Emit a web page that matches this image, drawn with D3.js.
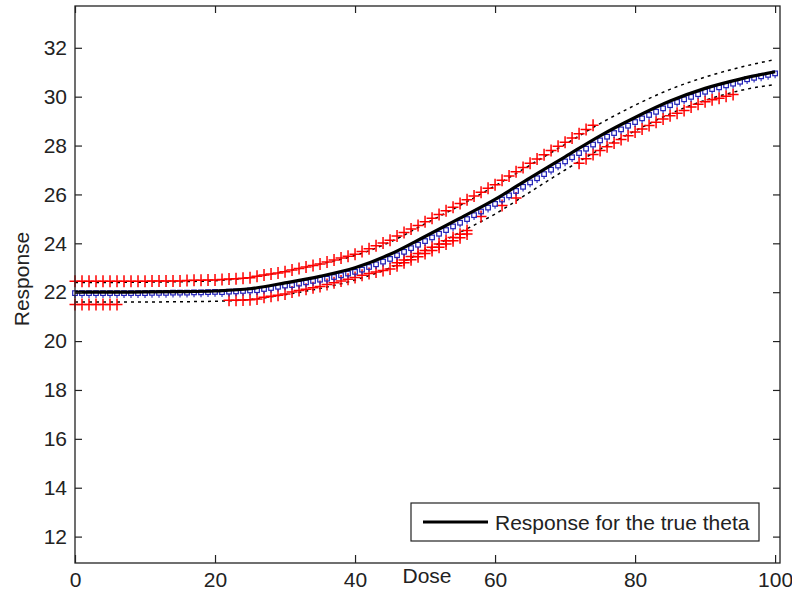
<!DOCTYPE html>
<html>
<head>
<meta charset="utf-8">
<script src="https://cdn.jsdelivr.net/npm/d3@7"></script>
<style>
  body { margin: 0; background: #fff; }
  svg text { font-family: "Liberation Sans", Arial, sans-serif; }
</style>
</head>
<body>
<svg id="chart" width="792" height="598"></svg>
<script>
// true-theta response, read every 5 dose units
let curve_doses = d3.range(0, 101, 5);
let true_response = [22.00, 22.00, 22.01, 22.02, 22.05, 22.14, 22.38, 22.65, 23.00, 23.55, 24.28,
    25.03, 25.80, 26.68, 27.54, 28.40, 29.15, 29.82, 30.34, 30.72, 31.02];
let upper_bound = [22.40, 22.40, 22.41, 22.43, 22.47, 22.60, 22.85, 23.15, 23.50, 24.05, 24.80,
    25.55, 26.35, 27.20, 28.05, 28.90, 29.65, 30.30, 30.80, 31.20, 31.52];
let lower_bound = [21.60, 21.60, 21.60, 21.61, 21.63, 21.70, 21.90, 22.15, 22.50, 23.00, 23.70,
    24.45, 25.20, 26.10, 27.00, 27.85, 28.60, 29.30, 29.85, 30.25, 30.50];

// blue estimates, one per dose 0..100
let est_doses = d3.range(0, 101);
let est_response = [
    21.95, 21.95, 21.95, 21.95, 21.95, 21.95, 21.95, 21.95, 21.95, 21.95, 21.95,
    21.96, 21.96, 21.96, 21.97, 21.97, 21.97, 21.98, 21.98, 21.99, 22.00,
    21.99, 22.01, 22.02, 22.04, 22.06, 22.07, 22.12, 22.16, 22.21, 22.26,
    22.28, 22.34, 22.39, 22.45, 22.50, 22.54, 22.61, 22.68, 22.75, 22.82,
    22.91, 23.02, 23.13, 23.24, 23.35, 23.50, 23.64, 23.79, 23.93, 24.08,
    24.23, 24.38, 24.53, 24.68, 24.83, 24.98, 25.14, 25.29, 25.45, 25.60,
    25.78, 25.95, 26.13, 26.30, 26.48, 26.65, 26.82, 27.00, 27.17, 27.34,
    27.51, 27.68, 27.86, 28.03, 28.20, 28.35, 28.50, 28.65, 28.80, 28.95,
    29.10, 29.24, 29.37, 29.51, 29.64, 29.77, 29.88, 29.98, 30.09, 30.19,
    30.30, 30.37, 30.45, 30.52, 30.60, 30.70, 30.76, 30.82, 30.88, 30.94];

// red observations
let obs_upper_doses = d3.range(0, 75);
let obs_upper = [
    22.45, 22.45, 22.45, 22.45, 22.45, 22.45, 22.45, 22.45, 22.45, 22.45, 22.45,
    22.46, 22.46, 22.46, 22.46, 22.46, 22.48, 22.49, 22.49, 22.50, 22.50,
    22.52, 22.54, 22.55, 22.57, 22.59, 22.65, 22.70, 22.74, 22.79, 22.84,
    22.91, 22.97, 23.03, 23.09, 23.15, 23.24, 23.32, 23.40, 23.47, 23.55,
    23.67, 23.78, 23.90, 24.01, 24.13, 24.30, 24.44, 24.59, 24.73, 24.88,
    25.03, 25.18, 25.33, 25.48, 25.63, 25.78, 25.94, 26.09, 26.25, 26.40,
    26.58, 26.75, 26.93, 27.10, 27.28, 27.45, 27.62, 27.80, 27.97, 28.14,
    28.31, 28.48, 28.66, 28.83];
let obs_lower_a_doses = d3.range(0, 7);
let obs_lower_a = [21.50, 21.50, 21.50, 21.50, 21.50, 21.50, 21.50];
let obs_lower_b_doses = d3.range(22, 57);
let obs_lower_b = [
    21.67, 21.67, 21.68, 21.69, 21.72,
    21.79, 21.83, 21.88, 21.93,
    22.01, 22.07, 22.12, 22.18, 22.23,
    22.32, 22.39, 22.46, 22.53, 22.60,
    22.69, 22.77, 22.83, 22.89, 22.95,
    23.08, 23.20, 23.33, 23.45, 23.58,
    23.71, 23.84, 23.97, 24.10, 24.23, 24.38];
// second, denser row in the thick part of the lower band
let obs_lower_b2_doses = d3.range(46, 57);
let obs_lower_b2 = [23.20, 23.32, 23.46, 23.58, 23.71, 23.84, 23.97, 24.10, 24.24, 24.37, 24.52];
let obs_lower_c_doses = [58, 61, 63];
let obs_lower_c = [25.10, 25.55, 25.85];
let obs_lower_d_doses = d3.range(72, 95);
let obs_lower_d = [
    27.28, 27.46, 27.63, 27.80, 27.95, 28.10, 28.25, 28.40, 28.55, 28.68, 28.82,
    28.95, 29.09, 29.22, 29.32, 29.43, 29.58, 29.69, 29.79, 29.87, 29.94, 30.02, 30.09];

let x_ticks = [0, 20, 40, 60, 80, 100];
let y_ticks = [12, 14, 16, 18, 20, 22, 24, 26, 28, 30, 32];
let legend_label = 'Response for the true theta';

let svg = d3.select('#chart');
let plot = {left: 75, right: 780, top: 6, bottom: 563};
let font_size = '21px', axis_color = '#222';

let x = d3.scaleLinear().domain([0, 100.7]).range([plot.left, plot.right]);
let y = d3.scaleLinear().domain([10.92, 33.71]).range([plot.bottom, plot.top]);

svg.append('rect').attr('width', 792).attr('height', 598).attr('fill', '#fff');

function zip(doses, values) {
    return doses.map((d, i) => ({dose: d, value: values[i]}));
}

// dotted bounds
let line = d3.line().x(d => x(d.dose)).y(d => y(d.value)).curve(d3.curveMonotoneX);
[upper_bound, lower_bound].forEach(function (vals) {
    svg.append('path')
        .datum(zip(curve_doses, vals))
        .attr('d', line)
        .attr('fill', 'none')
        .attr('stroke', '#000')
        .attr('stroke-width', 1.5)
        .attr('stroke-dasharray', '3,4');
});

// red plus markers
let plus_path = 'M-5.5,0H5.5M0,-6V6';
[[obs_upper_doses, obs_upper], [obs_lower_a_doses, obs_lower_a], [obs_lower_b_doses, obs_lower_b],
    [obs_lower_b2_doses, obs_lower_b2], [obs_lower_c_doses, obs_lower_c],
    [obs_lower_d_doses, obs_lower_d]].forEach(function (s) {
    svg.append('g').selectAll('path')
        .data(zip(s[0], s[1]))
        .join('path')
        .attr('d', plus_path)
        .attr('transform', d => 'translate(' + x(d.dose) + ',' + y(d.value) + ')')
        .attr('fill', 'none')
        .attr('stroke', '#ff0000')
        .attr('stroke-width', 1.5);
});

// blue estimate markers
let est_g = svg.append('g').selectAll('g')
    .data(zip(est_doses, est_response))
    .join('g')
    .attr('transform', d => 'translate(' + x(d.dose) + ',' + y(d.value) + ')');
est_g.append('rect')
    .attr('x', -2.3).attr('y', -2.6).attr('width', 4.6).attr('height', 4.6)
    .attr('fill', 'none').attr('stroke', '#2222b8').attr('stroke-width', 1.2);
est_g.append('line')
    .attr('x1', 0).attr('x2', 0).attr('y1', 2).attr('y2', 4.5)
    .attr('stroke', '#2222b8').attr('stroke-width', 1.1);

// true response line
svg.append('path')
    .datum(zip(curve_doses, true_response))
    .attr('d', line)
    .attr('fill', 'none')
    .attr('stroke', '#000')
    .attr('stroke-width', 3.2);

// axes, ticks inward on all four sides
svg.append('g').attr('transform', 'translate(' + plot.left + ',0)')
    .call(d3.axisLeft(y).tickValues(y_ticks).tickSizeInner(-7).tickSizeOuter(0).tickPadding(8));
svg.append('g').attr('transform', 'translate(0,' + plot.bottom + ')')
    .call(d3.axisBottom(x).tickValues(x_ticks).tickSizeInner(-8).tickSizeOuter(0).tickPadding(9));
svg.append('g').attr('transform', 'translate(' + plot.right + ',0)')
    .call(d3.axisRight(y).tickValues(y_ticks).tickSizeInner(-7).tickSizeOuter(0).tickFormat(''));
svg.append('g').attr('transform', 'translate(0,' + plot.top + ')')
    .call(d3.axisTop(x).tickValues(x_ticks).tickSizeInner(-7).tickSizeOuter(0).tickFormat(''));

svg.selectAll('.domain').remove();
svg.selectAll('.tick line').attr('stroke', axis_color).attr('stroke-width', 1.2);
svg.selectAll('.tick text').attr('font-size', font_size).attr('fill', axis_color)
    .attr('font-family', '"Liberation Sans", Arial, sans-serif');

svg.append('rect')
    .attr('x', plot.left).attr('y', plot.top)
    .attr('width', plot.right - plot.left).attr('height', plot.bottom - plot.top)
    .attr('fill', 'none').attr('stroke', axis_color).attr('stroke-width', 1.3);

// axis labels
svg.append('text')
    .attr('transform', 'translate(29,279) rotate(-90)')
    .attr('text-anchor', 'middle')
    .attr('font-size', font_size).attr('fill', axis_color)
    .text('Response');
svg.append('text')
    .attr('x', 427).attr('y', 583)
    .attr('text-anchor', 'middle')
    .attr('font-size', font_size).attr('fill', axis_color)
    .text('Dose');

// legend
let legend = svg.append('g');
legend.append('rect')
    .attr('x', 411).attr('y', 503).attr('width', 348).attr('height', 38)
    .attr('fill', '#fff').attr('stroke', axis_color).attr('stroke-width', 1.2);
legend.append('line')
    .attr('x1', 423).attr('x2', 488).attr('y1', 522).attr('y2', 522)
    .attr('stroke', '#000').attr('stroke-width', 3);
legend.append('text')
    .attr('x', 495).attr('y', 529.5)
    .attr('font-size', font_size).attr('fill', axis_color)
    .text(legend_label);
</script>
</body>
</html>
